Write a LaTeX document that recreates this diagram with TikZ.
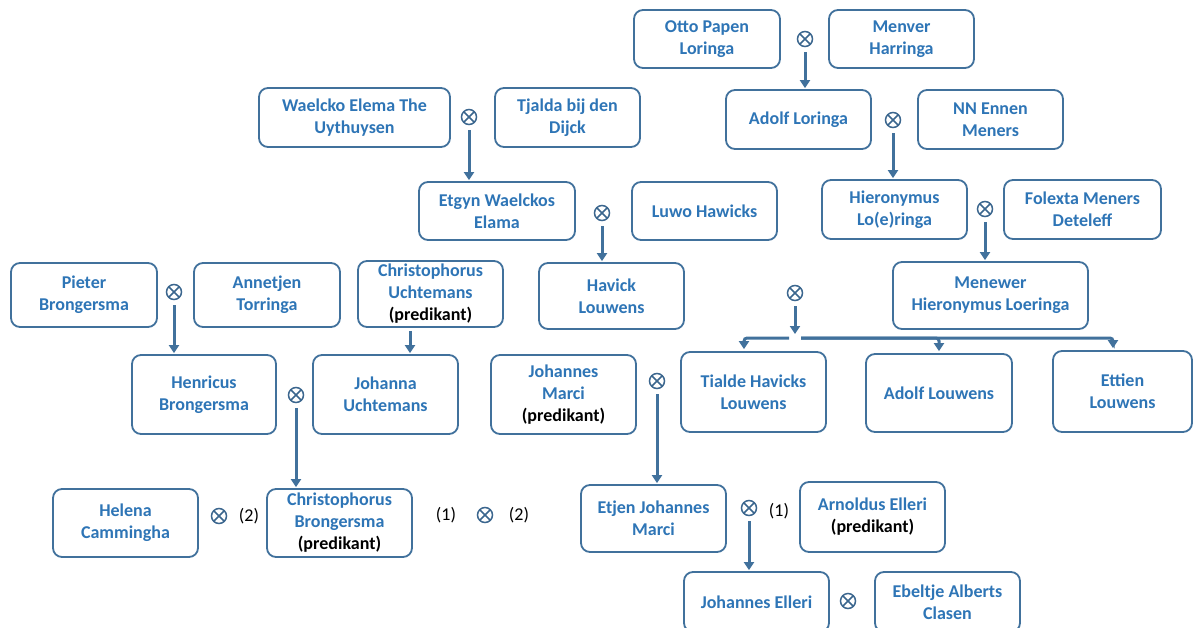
\documentclass[tikz,border=0pt]{standalone}
\usepackage{fontspec}
\setmainfont{Carlito}
\usetikzlibrary{arrows.meta,calc}
\definecolor{bord}{HTML}{41719C}
\definecolor{txt}{HTML}{2E75B6}
\definecolor{arr}{HTML}{41719C}
\definecolor{mk}{HTML}{3B668E}
\tikzset{
 box/.style={draw=bord, line width=1.8pt, rounded corners=9pt, fill=white, align=center,
   font=\bfseries\fontsize{18}{22}\selectfont, text=txt, inner sep=0pt},
 mar/.style={circle, draw=mk, line width=1.5pt, minimum size=15pt, inner sep=0pt,
   path picture={\draw[mk, line width=1.5pt] (path picture bounding box.north east) -- (path picture bounding box.south west)
     (path picture bounding box.north west) -- (path picture bounding box.south east);}},
 conn/.style={draw=arr, line width=3pt, -{Triangle[length=8pt,width=10pt]}, shorten >=1pt},
 bline/.style={draw=arr, line width=3pt},
 lab/.style={font=\fontsize{18}{22}\selectfont, text=black, inner sep=0pt},
}
\newcommand\pred{\textcolor{black}{(predikant)}}
\begin{document}
\begin{tikzpicture}[x=1pt,y=-1pt]
\useasboundingbox (0,0) rectangle (1194,627);
% boxes
\node[box, minimum width=146pt, minimum height=58pt] (otto) at (707,39) {Otto Papen\\Loringa};
\node[box, minimum width=145pt, minimum height=58pt] (menver) at (901.5,39) {Menver\\Harringa};
\node[box, minimum width=145pt, minimum height=59pt] (adolfL) at (798.5,119.5) {Adolf Loringa};
\node[box, minimum width=145pt, minimum height=59pt] (nn) at (990.5,119.5) {NN Ennen\\Meners};
\node[box, minimum width=191pt, minimum height=59pt] (waelcko) at (354.5,117.5) {Waelcko Elema The\\Uythuysen};
\node[box, minimum width=145pt, minimum height=59pt] (tjalda) at (567.5,117.5) {Tjalda bij den\\Dijck};
\node[box, minimum width=156pt, minimum height=58pt] (etgyn) at (497,211) {Etgyn Waelckos\\Elama};
\node[box, minimum width=145pt, minimum height=58pt] (luwo) at (704.5,211) {Luwo Hawicks};
\node[box, minimum width=145pt, minimum height=59pt] (hier) at (894.5,209.5) {Hieronymus\\Lo(e)ringa};
\node[box, minimum width=157pt, minimum height=59pt] (folexta) at (1082.5,209.5) {Folexta Meners\\Deteleff};
\node[box, minimum width=146pt, minimum height=64pt] (pieter) at (84,295) {Pieter\\Brongersma};
\node[box, minimum width=146pt, minimum height=64pt] (annetjen) at (267,295) {Annetjen\\Torringa};
\node[box, minimum width=145pt, minimum height=66pt] (christU) at (430.5,294) {Christophorus\\Uchtemans\\\pred};
\node[box, minimum width=145pt, minimum height=66pt] (havick) at (611.5,296) {Havick\\Louwens};
\node[box, minimum width=195pt, minimum height=67pt] (menewer) at (990.5,295.5) {Menewer\\Hieronymus Loeringa};
\node[box, minimum width=144pt, minimum height=79pt] (henricus) at (204,394.5) {Henricus\\Brongersma};
\node[box, minimum width=145pt, minimum height=79pt] (johanna) at (385.5,394.5) {Johanna\\Uchtemans};
\node[box, minimum width=145pt, minimum height=79pt] (jmarci) at (563.5,394.5) {Johannes\\Marci\\\pred};
\node[box, minimum width=145pt, minimum height=80pt] (tialde) at (753.5,392) {Tialde Havicks\\Louwens};
\node[box, minimum width=146pt, minimum height=78pt] (adolfLou) at (939,393) {Adolf Louwens};
\node[box, minimum width=139pt, minimum height=81pt] (ettien) at (1122.5,391.5) {Ettien\\Louwens};
\node[box, minimum width=145pt, minimum height=68pt] (helena) at (125.5,523) {Helena\\Cammingha};
\node[box, minimum width=145pt, minimum height=68pt] (christB) at (339.5,523) {Christophorus\\Brongersma\\\pred};
\node[box, minimum width=145pt, minimum height=67pt] (etjen) at (653.5,518.5) {Etjen Johannes\\Marci};
\node[box, minimum width=145pt, minimum height=70pt] (arnoldus) at (872.5,517) {Arnoldus Elleri\\\pred};
\node[box, minimum width=145pt, minimum height=60pt] (jelleri) at (756.5,602) {Johannes Elleri};
\node[box, minimum width=145pt, minimum height=60pt] (ebeltje) at (947.5,602) {Ebeltje Alberts\\Clasen};
% marriage marks
\node[mar] (m1) at (805,39) {};
\node[mar] (m2) at (893,120) {};
\node[mar] (m3) at (469,117) {};
\node[mar] (m4) at (602,213) {};
\node[mar] (m5) at (985,209) {};
\node[mar] (m6) at (174,292) {};
\node[mar] (m7) at (296,395) {};
\node[mar] (m8) at (795,293) {};
\node[mar] (m9) at (657,381) {};
\node[mar] (m10) at (219,516) {};
\node[mar] (m11) at (485,515) {};
\node[mar] (m12) at (749,508) {};
\node[mar] (m13) at (848,601) {};
% labels
\node[lab] (l1) at (249,516) {(2)};
\node[lab] (l2) at (446,515) {(1)};
\node[lab] (l3) at (519,515) {(2)};
\node[lab] (l4) at (779,511) {(1)};
% connectors
\draw[conn] ([yshift=-5pt]m1.south) -- (m1.south |- adolfL.north);
\draw[conn] ([yshift=-5pt]m2.south) -- (m2.south |- hier.north);
\draw[conn] ([yshift=-5pt]m3.south) -- (m3.south |- etgyn.north);
\draw[conn] ([yshift=-5pt]m4.south) -- (m4.south |- havick.north);
\draw[conn] ([yshift=-5pt]m5.south) -- (m5.south |- menewer.north);
\draw[conn] ([yshift=-5pt]m6.south) -- (m6.south |- henricus.north);
\draw[conn] ([xshift=-20.5pt,yshift=-3pt]christU.south) -- ([xshift=-20.5pt]christU.south |- johanna.north);
\draw[conn] ([yshift=-5pt]m7.south) -- (m7.south |- christB.north);
\draw[conn] ([yshift=-5pt]m9.south) -- (m9.south |- etjen.north);
\draw[conn] ([yshift=-5pt]m12.south) -- (m12.south |- jelleri.north);
\coordinate (br) at (795,338);
\draw[conn] ([yshift=-5pt]m8.south) -- ([yshift=3pt]br);
\draw[bline, rounded corners=3pt, -{Triangle[length=8pt,width=10pt]}, shorten >=2pt] ([xshift=-6pt]br) -| ([xshift=-9.5pt]tialde.north);
\draw[bline, rounded corners=3pt, -{Triangle[length=8pt,width=10pt]}, shorten >=2pt] ([xshift=6pt]br) -| (adolfLou.north);
\draw[bline, rounded corners=3pt, -{Triangle[length=8pt,width=10pt]}, shorten >=2pt] ([xshift=6pt]br) -| ([xshift=-9.5pt]ettien.north);
\end{tikzpicture}
\end{document}
